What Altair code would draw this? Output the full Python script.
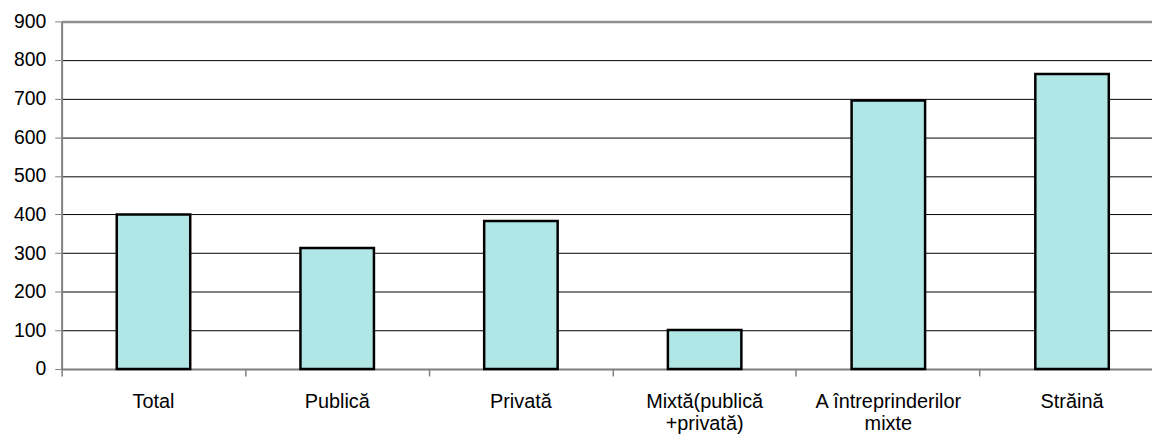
import altair as alt
import pandas as pd

categories = ["Total", "Publică", "Privată", "Mixtă(publică|+privată)", "A întreprinderilor|mixte", "Străină"]
values = [400, 313, 383, 101, 695, 764]

df = pd.DataFrame({"cat": categories, "val": values})

xscale = alt.Scale(paddingInner=0.6, paddingOuter=0.2676, align=0.5606)

bars = alt.Chart(df).mark_bar(
    fill="#b0e6e6", stroke="black", strokeWidth=2.5
).encode(
    x=alt.X(
        "cat:N",
        sort=categories,
        title=None,
        scale=xscale,
        axis=alt.Axis(
            orient="bottom",
            labelAngle=0,
            labelExpr="split(datum.label, '|')",
            labelFont="Liberation Sans",
            labelFontSize=20,
            labelColor="black",
            labelLineHeight=22,
            labelBaseline="top",
            labelPadding=23,
            ticks=False,
            domainColor="#808080",
            domainWidth=2,
        ),
    ),
    y=alt.Y(
        "val:Q",
        title=None,
        scale=alt.Scale(domain=[0, 900], nice=False),
        axis=alt.Axis(
            values=list(range(0, 1000, 100)),
            labelFont="Liberation Sans",
            labelFontSize=19.5,
            labelColor="black",
            labelPadding=9,
            labelOverlap=False,
            tickSize=7,
            tickColor="#808080",
            domainColor="#808080",
            domainWidth=2,
            gridColor=alt.condition("datum.value == 900", alt.value("#909090"), alt.value("black")),
            gridWidth=alt.condition("datum.value == 900", alt.value(2.5), alt.value(1)),
        ),
    ),
)

ticks_layer = alt.Chart(df).mark_rule(opacity=0).encode(
    x=alt.X(
        "cat:N",
        sort=categories,
        title=None,
        scale=xscale,
        axis=alt.Axis(
            orient="bottom",
            labels=False,
            domain=False,
            grid=False,
            ticks=True,
            tickSize=7,
            tickColor="#808080",
            tickWidth=1.5,
            bandPosition=-0.75,
        ),
    ),
)

chart = alt.layer(bars, ticks_layer).resolve_axis(x="independent").properties(
    width=1098,
    height=350,
    autosize=alt.AutoSizeParams(type="none"),
    padding={"left": 54, "top": 12, "right": 0, "bottom": 67},
).configure_view(stroke=None)

chart.save("out.html", embed_options={"renderer": "svg", "actions": False})
